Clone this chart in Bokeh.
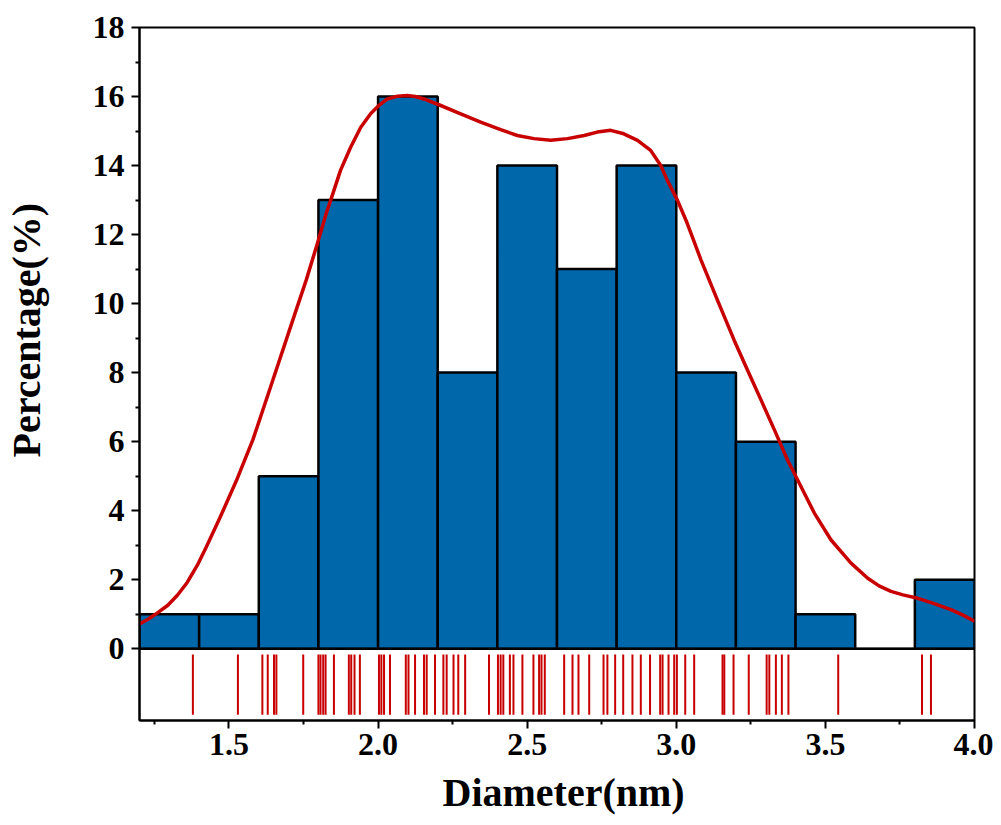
from bokeh.plotting import figure
from bokeh.models import FixedTicker, Span, ColumnDataSource, Title
from bokeh.embed import file_html
from bokeh.resources import INLINE

# ---------------- data ----------------
bin_edges = [1.2, 1.4, 1.6, 1.8, 2.0, 2.2, 2.4, 2.6, 2.8, 3.0, 3.2, 3.4, 3.6, 3.8, 4.0]
percentages = [1, 1, 5, 13, 16, 8, 14, 11, 14, 8, 6, 1, 0, 2]

curve_x = [1.200, 1.230, 1.259, 1.295, 1.327, 1.360, 1.394, 1.424, 1.470, 1.524,
           1.580, 1.647, 1.714, 1.759, 1.793, 1.826, 1.841, 1.874, 1.908, 1.942,
           1.975, 2.000, 2.031, 2.065, 2.098, 2.125, 2.154, 2.210, 2.277, 2.344,
           2.411, 2.467, 2.523, 2.579, 2.635, 2.691, 2.735, 2.780, 2.824, 2.870,
           2.914, 2.948, 2.970, 3.004, 3.037, 3.083, 3.138, 3.194, 3.239, 3.284,
           3.329, 3.373, 3.418, 3.463, 3.519, 3.586, 3.642, 3.680, 3.720, 3.760,
           3.810, 3.860, 3.921, 3.960, 4.000]
curve_y = [0.72, 0.86, 1.03, 1.26, 1.55, 1.92, 2.42, 2.95, 3.80, 4.85,
           6.05, 7.78, 9.52, 10.68, 11.64, 12.61, 12.99, 13.86, 14.53, 15.11,
           15.50, 15.72, 15.93, 16.01, 16.03, 16.00, 15.93, 15.74, 15.50, 15.26,
           15.04, 14.87, 14.78, 14.73, 14.78, 14.87, 14.97, 15.02, 14.92, 14.73,
           14.44, 14.00, 13.57, 12.99, 12.32, 11.26, 10.10, 8.94, 8.07, 7.21,
           6.34, 5.47, 4.70, 3.93, 3.15, 2.48, 2.04, 1.82, 1.66, 1.56,
           1.46, 1.32, 1.13, 0.98, 0.80]

rug_x = [1.379, 1.530, 1.612, 1.630, 1.651, 1.659, 1.749, 1.800, 1.807, 1.816,
         1.824, 1.852, 1.902, 1.910, 1.921, 1.939, 2.003, 2.011, 2.020, 2.040,
         2.093, 2.102, 2.124, 2.154, 2.163, 2.191, 2.219, 2.230, 2.253, 2.269,
         2.292, 2.372, 2.402, 2.411, 2.420, 2.442, 2.454, 2.484, 2.521, 2.540,
         2.548, 2.559, 2.624, 2.652, 2.672, 2.708, 2.756, 2.769, 2.795, 2.822,
         2.853, 2.881, 2.912, 2.946, 2.954, 2.974, 2.993, 3.002, 3.030, 3.060,
         3.155, 3.161, 3.192, 3.243, 3.303, 3.312, 3.334, 3.354, 3.376, 3.543,
         3.824, 3.854]

x_major = [1.5, 2.0, 2.5, 3.0, 3.5, 4.0]
x_minor = [1.25, 1.75, 2.25, 2.75, 3.25, 3.75]
y_major = [0, 2, 4, 6, 8, 10, 12, 14, 16, 18]
y_minor = [1, 3, 5, 7, 9, 11, 13, 15, 17]

x_title = "Diameter(nm)"
y_title = "Percentage(%)"

# ---------------- styles ----------------
BAR = "#0067AA"
RED = "#C80000"
FONT = "Liberation Serif"
RUG_TOP, RUG_BOTTOM = -0.17, -1.91

p = figure(width=993, height=825, output_backend="svg", toolbar_location=None,
           x_range=(1.2, 4.0), y_range=(-2.08, 18),
           min_border_left=139, min_border_right=19, min_border_top=27, min_border_bottom=104)
p.background_fill_color = "white"
p.border_fill_color = "white"
p.outline_line_color = "black"
p.outline_line_width = 2
p.xgrid.visible = False
p.ygrid.visible = False

hist = ColumnDataSource(dict(left=bin_edges[:-1], right=bin_edges[1:], top=percentages,
                             bottom=[0] * len(percentages)))
p.quad(left="left", right="right", top="top", bottom="bottom", source=hist,
       fill_color=BAR, line_color="black", line_width=2.5)

p.add_layout(Span(location=0, dimension="width", line_color="black", line_width=2))

p.segment(x0=rug_x, y0=[RUG_TOP] * len(rug_x), x1=rug_x, y1=[RUG_BOTTOM] * len(rug_x),
          line_color=RED, line_width=2)

p.line(curve_x, curve_y, line_color=RED, line_width=3.5, line_join="round")

# axes
p.xaxis.ticker = FixedTicker(ticks=x_major, minor_ticks=x_minor)
p.xaxis.major_label_overrides = {v: f"{v:.1f}" for v in x_major}
p.yaxis.ticker = FixedTicker(ticks=y_major, minor_ticks=y_minor)

for ax in (p.xaxis[0], p.yaxis[0]):
    ax.axis_line_color = "black"
    ax.axis_line_width = 2
    ax.major_tick_line_color = "black"
    ax.major_tick_line_width = 2
    ax.minor_tick_line_color = "black"
    ax.minor_tick_line_width = 2
    ax.major_tick_in = 0
    ax.major_tick_out = 8
    ax.minor_tick_in = 0
    ax.minor_tick_out = 4
    ax.major_label_text_font = FONT
    ax.major_label_text_font_style = "bold"
    ax.major_label_text_font_size = "32px"
    ax.major_label_text_color = "black"

p.xaxis.major_label_standoff = 5
p.yaxis.major_label_standoff = 7

# axis titles as side titles (allow an off-centre position like the original)
p.add_layout(Title(text=x_title, align="left", offset=303, vertical_align="bottom",
                   standoff=21, text_font=FONT, text_font_style="bold",
                   text_font_size="40px", text_color="black"), "below")
# empty spacer between the y axis and its title
p.add_layout(Title(text=" ", standoff=38, text_font_size="1px"), "left")
p.add_layout(Title(text=y_title, align="left", offset=263, vertical_align="bottom",
                   standoff=0, text_font=FONT, text_font_style="bold",
                   text_font_size="40px", text_color="black"), "left")

open("out.html", "w").write(file_html(p, INLINE))
